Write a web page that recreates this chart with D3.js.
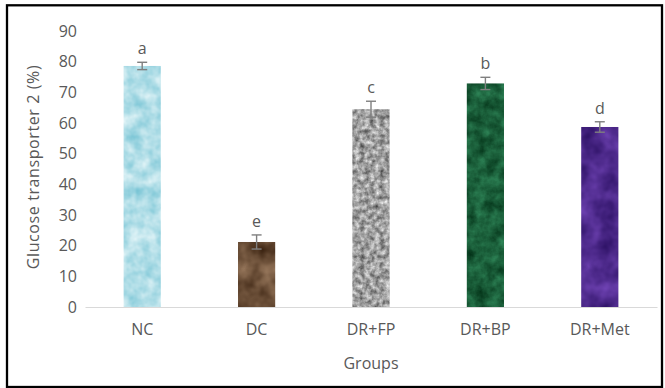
<!DOCTYPE html>
<html>
<head>
<meta charset="utf-8">
<script src="https://cdn.jsdelivr.net/npm/d3@7"></script>
<style>
  html, body { margin: 0; padding: 0; background: #fff; }
  svg { display: block; }
  text { font-family: "Open Sans", sans-serif; fill: #595959; }
</style>
</head>
<body>
<svg id="chart" width="665" height="388"></svg>
<script>
// GLUT2 expression per group
const groups = ["NC", "DC", "DR+FP", "DR+BP", "DR+Met"];
const values = [78.6, 21.2, 64.5, 72.9, 58.7];
const errors = [1.2, 2.3, 2.6, 2.0, 1.7];
const letters = ["a", "e", "c", "b", "d"];
const yTicks = [0, 10, 20, 30, 40, 50, 60, 70, 80, 90];

// Texture for each bar: [dark colour, light colour, noise frequency, octaves]
const textures = [
  ["#7cc6d6", "#e4f5f8", 0.07, 3],
  ["#3a2210", "#9a7a5e", 0.05, 3],
  ["#505050", "#f0f0f0", 0.2, 3],
  ["#043419", "#30885a", 0.08, 4],
  ["#2e1266", "#6e42b2", 0.05, 3]
];

const svg = d3.select("#chart");
const W = 665, H = 388;
const margin = { left: 85, right: 8, top: 31, bottom: 81 };
const plotW = W - margin.left - margin.right;
const plotH = H - margin.top - margin.bottom;

const x = d3.scaleBand().domain(groups).range([margin.left, margin.left + plotW]).paddingInner(0.675).paddingOuter(0.3375);
const y = d3.scaleLinear().domain([0, 90]).range([margin.top + plotH, margin.top]);

// Noise filters that give each bar its surface
const defs = svg.append("defs");
textures.forEach((t, i) => {
  const c0 = d3.rgb(t[0]), c1 = d3.rgb(t[1]);
  const lo = 0.12, hi = 0.88;
  const gain = (a, b) => (b - a) / 255 / (hi - lo);
  const kR = gain(c0.r, c1.r), kG = gain(c0.g, c1.g), kB = gain(c0.b, c1.b);
  const bR = c0.r / 255 - lo * kR, bG = c0.g / 255 - lo * kG, bB = c0.b / 255 - lo * kB;
  const f = defs.append("filter").attr("id", "tex" + i)
    .attr("x", 0).attr("y", 0).attr("width", 1).attr("height", 1)
    .attr("color-interpolation-filters", "sRGB");
  f.append("feTurbulence").attr("type", "fractalNoise")
    .attr("baseFrequency", t[2]).attr("numOctaves", t[3]).attr("seed", i * 7 + 3).attr("result", "n");
  f.append("feColorMatrix").attr("in", "n").attr("type", "matrix")
    .attr("values", [kR,0,0,0,bR, kG,0,0,0,bG, kB,0,0,0,bB, 0,0,0,0,1].join(" "))
    .attr("result", "c");
  f.append("feComposite").attr("in", "c").attr("in2", "SourceGraphic").attr("operator", "in");
});

// Value axis labels
svg.append("g")
  .attr("transform", `translate(${margin.left},0)`)
  .call(d3.axisLeft(y).tickValues(yTicks).tickSize(0).tickPadding(8))
  .call(g => g.select(".domain").remove())
  .call(g => g.selectAll("text").style("font-size", "16px").style("fill", "#595959").style("font-family", "'Open Sans', sans-serif"));

// Bars
svg.append("g").selectAll("rect").data(groups).join("rect")
  .attr("x", d => x(d))
  .attr("y", (d, i) => y(values[i]))
  .attr("width", x.bandwidth())
  .attr("height", (d, i) => y(0) - y(values[i]))
  .attr("fill", "#888")
  .attr("filter", (d, i) => `url(#tex${i})`);

// Category axis
const xAxis = svg.append("g")
  .attr("transform", `translate(0,${y(0)})`)
  .call(d3.axisBottom(x).tickSize(0).tickPadding(17));
xAxis.select(".domain").attr("stroke", "#d9d9d9").attr("stroke-width", 1.2);
xAxis.selectAll("text").style("font-size", "16px").style("fill", "#595959").style("font-family", "'Open Sans', sans-serif");

// Error bars
const eb = svg.append("g").attr("stroke", "#7f7f7f").attr("stroke-width", 1.4).attr("fill", "none");
groups.forEach((g, i) => {
  const cx = x(g) + x.bandwidth() / 2;
  const top = y(values[i] + errors[i]), bot = y(values[i] - errors[i]);
  eb.append("line").attr("x1", cx).attr("x2", cx).attr("y1", top).attr("y2", bot);
  eb.append("line").attr("x1", cx - 5).attr("x2", cx + 5).attr("y1", top).attr("y2", top);
  eb.append("line").attr("x1", cx - 5).attr("x2", cx + 5).attr("y1", bot).attr("y2", bot);
});

// Significance letters
svg.append("g").selectAll("text").data(groups).join("text")
  .attr("x", d => x(d) + x.bandwidth() / 2)
  .attr("y", (d, i) => y(values[i] + errors[i]) - 8)
  .attr("text-anchor", "middle")
  .style("font-size", "16px")
  .text((d, i) => letters[i]);

// Axis titles
svg.append("text")
  .attr("x", margin.left + plotW / 2).attr("y", 369)
  .attr("text-anchor", "middle").style("font-size", "16px")
  .text("Groups");
svg.append("text")
  .attr("transform", "translate(39,167) rotate(-90)")
  .attr("text-anchor", "middle").style("font-size", "16px").style("letter-spacing", "0.6px")
  .text("Glucose transporter 2 (%)");

// Outer frame
svg.append("rect")
  .attr("x", 7).attr("y", 5.3).attr("width", 655).attr("height", 381.7)
  .attr("fill", "none").attr("stroke", "#000").attr("stroke-width", 2.3);
</script>
</body>
</html>
